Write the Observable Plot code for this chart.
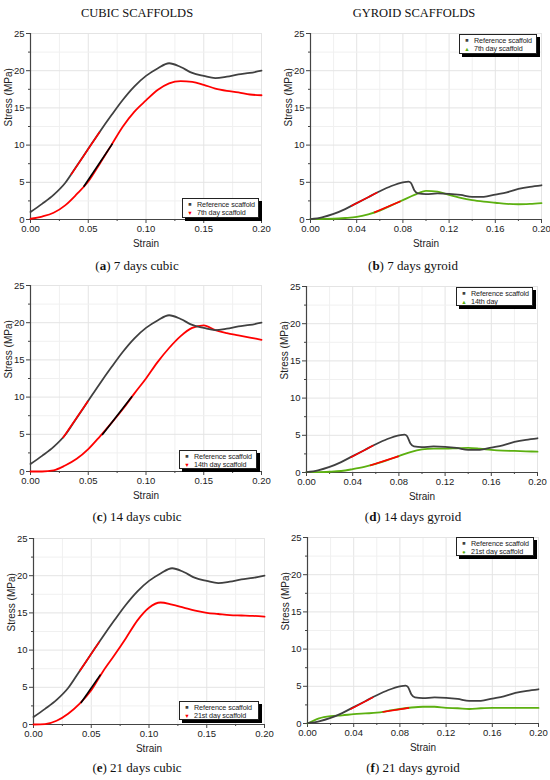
<!DOCTYPE html>
<html>
<head>
<meta charset="utf-8">
<script src="https://cdn.jsdelivr.net/npm/d3@7"></script>
<script src="https://cdn.jsdelivr.net/npm/@observablehq/plot@0.6"></script>
<style>
  body { margin: 0; background: #fff; }
  #root { position: relative; width: 550px; height: 780px; overflow: hidden; background: #fff; }
  .serif { position: absolute; font-family: "Liberation Serif", "Times New Roman", serif; color: #111; transform: translate(-50%, -50%); white-space: nowrap; }
  .legend { position: absolute; background: #fff; border: 1px solid #222; box-shadow: 3px 3px 0 #000; font-family: "Liberation Sans", Arial, sans-serif; font-size: 7.2px; color: #222; box-sizing: border-box; padding: 1px 0 0 0; white-space: nowrap; overflow: visible; }
  .legend .row { display: flex; align-items: center; height: 8.5px; white-space: nowrap; }
  .legend .sym { flex: 0 0 14px; text-align: center; font-size: 5.5px; line-height: 8.5px; }
  .legend .lbl { white-space: nowrap; letter-spacing: -0.1px; }
  .panel { position: absolute; }
</style>
</head>
<body>
<div id="root"></div>
<script>
// ---------- data ----------
const cubicStrain = [0, 0.01, 0.02, 0.03, 0.04, 0.05, 0.06, 0.07, 0.08, 0.09, 0.10, 0.11, 0.12, 0.13, 0.14, 0.15, 0.16, 0.17, 0.18, 0.19, 0.20];
const cubicRef    = [1.0, 2.1, 3.3, 4.9, 7.2, 9.5, 11.8, 14.0, 16.1, 17.9, 19.3, 20.3, 21.0, 20.5, 19.7, 19.3, 19.0, 19.2, 19.5, 19.7, 20.0];
const cubic7      = [0.1, 0.4, 0.9, 1.9, 3.4, 5.1, 7.5, 10.0, 12.5, 14.5, 16.0, 17.4, 18.3, 18.6, 18.5, 18.1, 17.6, 17.3, 17.1, 16.8, 16.7];
const cubic14     = [0.0, 0.0, 0.15, 0.8, 1.7, 3.0, 4.7, 6.5, 8.4, 10.5, 12.5, 14.7, 16.6, 18.2, 19.3, 19.65, 19.0, 18.6, 18.3, 18.0, 17.7];
const cubic21     = [0.0, 0.05, 0.5, 1.45, 2.8, 4.6, 7.1, 9.3, 11.6, 14.0, 15.7, 16.4, 16.1, 15.7, 15.3, 15.0, 14.85, 14.7, 14.65, 14.6, 14.5];

const gyroidRefStrain = [0, 0.01, 0.02, 0.03, 0.04, 0.05, 0.06, 0.07, 0.08, 0.085, 0.087, 0.09, 0.093, 0.10, 0.11, 0.12, 0.13, 0.14, 0.15, 0.16, 0.17, 0.18, 0.19, 0.20];
const gyroidRef       = [0.05, 0.3, 0.75, 1.4, 2.2, 3.0, 3.8, 4.5, 5.0, 5.1, 4.9, 3.9, 3.5, 3.4, 3.5, 3.45, 3.3, 3.05, 3.05, 3.35, 3.65, 4.1, 4.4, 4.6];
const gyroidStrain = [0, 0.01, 0.02, 0.03, 0.04, 0.05, 0.06, 0.07, 0.08, 0.09, 0.10, 0.11, 0.12, 0.13, 0.14, 0.15, 0.16, 0.17, 0.18, 0.19, 0.20];
const gyroid7      = [0.05, 0.07, 0.1, 0.2, 0.35, 0.7, 1.2, 1.9, 2.6, 3.3, 3.85, 3.75, 3.3, 2.9, 2.6, 2.4, 2.25, 2.1, 2.05, 2.1, 2.2];
const gyroid14     = [0.05, 0.05, 0.1, 0.2, 0.45, 0.75, 1.15, 1.65, 2.2, 2.75, 3.1, 3.2, 3.2, 3.25, 3.3, 3.2, 3.05, 2.95, 2.9, 2.85, 2.8];
const gyroid21     = [0.0, 0.7, 1.0, 1.1, 1.25, 1.35, 1.45, 1.7, 1.95, 2.15, 2.25, 2.25, 2.1, 2.05, 1.95, 2.05, 2.1, 2.1, 2.1, 2.1, 2.1];

// linear-fit overlay segments [x1, y1, x2, y2, colour]
const fitA = [[0.035, 6.0, 0.060, 11.8, "#ff0000"], [0.046, 4.4, 0.071, 10.2, "#000000"]];
const fitB = [[0.035, 1.8, 0.058, 3.65, "#ff0000"], [0.055, 0.95, 0.078, 2.45, "#ff0000"]];
const fitC = [[0.028, 4.5, 0.050, 9.5, "#ff0000"], [0.062, 4.9, 0.088, 10.1, "#000000"]];
const fitD = [[0.038, 2.0, 0.058, 3.65, "#ff0000"], [0.055, 0.95, 0.080, 2.2, "#ff0000"]];
const fitE = [[0.040, 7.2, 0.057, 11.1, "#ff0000"], [0.041, 2.9, 0.058, 6.7, "#000000"]];
const fitF = [[0.037, 1.9, 0.057, 3.55, "#ff0000"], [0.065, 1.55, 0.088, 2.1, "#ff0000"]];

const cubicTicks = [0, 0.05, 0.10, 0.15, 0.20];
const cubicMinor = [0.025, 0.075, 0.125, 0.175];
const gyroidTicks = [0, 0.04, 0.08, 0.12, 0.16, 0.20];
const gyroidMinor = [0.02, 0.06, 0.10, 0.14, 0.18];
const yTicks = [0, 5, 10, 15, 20, 25];
const yMinor = [2.5, 7.5, 12.5, 17.5, 22.5];

const refLabel = "Reference scaffold";
const titles = ["CUBIC SCAFFOLDS", "GYROID SCAFFOLDS"];

const REF_COLOR = "#404040", RED = "#ff0000", GREEN = "#5cb010";

// ---------- panels ----------
const panels = [
  {left: 0,   top: 23,  strain: cubicStrain, day: cubic7,  refStrain: cubicStrain, ref: cubicRef, dayColor: RED, sym: "▼",
   ticks: cubicTicks, minor: cubicMinor, fits: fitA, dayLabel: "7th day scaffold",
   legend: [182, 198, 77, 20], caption: ["a", " 7 days cubic"], cap: [137, 266]},
  {left: 280, top: 23,  strain: gyroidStrain, day: gyroid7, refStrain: gyroidRefStrain, ref: gyroidRef, dayColor: GREEN, sym: "▲",
   ticks: gyroidTicks, minor: gyroidMinor, fits: fitB, dayLabel: "7th day scaffold",
   legend: [459, 34, 78, 20], caption: ["b", " 7 days gyroid"], cap: [413, 266]},
  {left: 0,   top: 275, strain: cubicStrain, day: cubic14, refStrain: cubicStrain, ref: cubicRef, dayColor: RED, sym: "▼",
   ticks: cubicTicks, minor: cubicMinor, fits: fitC, dayLabel: "14th day scaffold",
   legend: [179, 450, 78, 19], caption: ["c", " 14 days cubic"], cap: [137, 517]},
  {left: 276, top: 276, strain: gyroidStrain, day: gyroid14, refStrain: gyroidRefStrain, ref: gyroidRef, dayColor: GREEN, sym: "▲",
   ticks: gyroidTicks, minor: gyroidMinor, fits: fitD, dayLabel: "14th day",
   legend: [456, 287, 77, 19], caption: ["d", " 14 days gyroid"], cap: [413, 517]},
  {left: 3,   top: 528, strain: cubicStrain, day: cubic21, refStrain: cubicStrain, ref: cubicRef, dayColor: RED, sym: "▼",
   ticks: cubicTicks, minor: cubicMinor, fits: fitE, dayLabel: "21st day scaffold",
   legend: [179, 701, 80, 19], caption: ["e", " 21 days cubic"], cap: [137, 768]},
  {left: 277, top: 527, strain: gyroidStrain, day: gyroid21, refStrain: gyroidRefStrain, ref: gyroidRef, dayColor: GREEN, sym: "●",
   ticks: gyroidTicks, minor: gyroidMinor, fits: fitF, dayLabel: "21st day scaffold",
   legend: [456, 537, 78, 19], caption: ["f", " 21 days gyroid"], cap: [413, 768]}
];

const root = document.getElementById("root");

function addText(html, x, y, size, extra = "") {
  const d = document.createElement("div");
  d.className = "serif";
  d.style.left = x + "px";
  d.style.top = y + "px";
  d.style.fontSize = size + "px";
  d.style.cssText += extra;
  d.innerHTML = html;
  root.appendChild(d);
}

addText(titles[0], 137, 13, 12.5);
addText(titles[1], 414, 13, 12.5);

for (const p of panels) {
  const refData = p.refStrain.map((s, i) => ({strain: s, stress: p.ref[i]}));
  const dayData = p.strain.map((s, i) => ({strain: s, stress: p.day[i]}));
  const fitData = p.fits.map(([x1, y1, x2, y2, c]) => ({x1, y1, x2, y2, c}));
  const fmt = d3.format(".2f");

  const chart = Plot.plot({
    width: 270, height: 240,
    marginLeft: 30, marginRight: 9, marginTop: 10, marginBottom: 44,
    style: {fontFamily: "'Liberation Sans', Arial, sans-serif", fontSize: "9.5px", color: "#222", background: "transparent", overflow: "visible"},
    x: {domain: [0, 0.2], axis: null},
    y: {domain: [0, 25], axis: null},
    marks: [
      Plot.gridX(p.minor, {stroke: "#f0f0f0", strokeOpacity: 1}),
      Plot.gridX(p.ticks.slice(1), {stroke: "#e4e4e4", strokeOpacity: 1}),
      Plot.gridY(yMinor, {stroke: "#f0f0f0", strokeOpacity: 1}),
      Plot.gridY(yTicks.slice(1), {stroke: "#e4e4e4", strokeOpacity: 1}),
      Plot.axisX(p.ticks, {tickSize: 4, tickPadding: 2, tickFormat: fmt, stroke: "#444", label: null}),
      Plot.axisX(p.minor, {tickSize: 2, tickFormat: () => "", stroke: "#444", label: null}),
      Plot.axisY(yTicks, {tickSize: 4, tickPadding: 2, stroke: "#444", label: null}),
      Plot.axisY(yMinor, {tickSize: 2, tickFormat: () => "", stroke: "#444", label: null}),
      Plot.ruleX([0], {stroke: "#444", strokeWidth: 1.2}),
      Plot.ruleY([0], {stroke: "#444", strokeWidth: 1.2}),
      Plot.line(dayData, {x: "strain", y: "stress", stroke: p.dayColor, strokeWidth: 1.8, curve: "monotone-x"}),
      Plot.line(refData, {x: "strain", y: "stress", stroke: REF_COLOR, strokeWidth: 1.8, curve: "monotone-x"}),
      Plot.link(fitData, {x1: "x1", y1: "y1", x2: "x2", y2: "y2", stroke: "c", strokeWidth: 1.6}),
      Plot.text(["Strain"], {frameAnchor: "bottom", dy: 24, fontSize: 10, fill: "#222", lineAnchor: "middle"}),
      Plot.text(["Stress (MPa)"], {frameAnchor: "left", dx: -22, rotate: -90, fontSize: 10, fill: "#222"})
    ]
  });
  const wrap = document.createElement("div");
  wrap.className = "panel";
  wrap.style.left = p.left + "px";
  wrap.style.top = p.top + "px";
  wrap.appendChild(chart);
  root.appendChild(wrap);

  // legend box
  const [lx, ly, lw, lh] = p.legend;
  const lg = document.createElement("div");
  lg.className = "legend";
  lg.style.left = lx + "px";
  lg.style.top = ly + "px";
  lg.style.width = lw + "px";
  lg.style.height = lh + "px";
  lg.innerHTML =
    `<div class="row"><span class="sym" style="color:${REF_COLOR}">■</span><span class="lbl">${refLabel}</span></div>` +
    `<div class="row"><span class="sym" style="color:${p.dayColor}">${p.sym}</span><span class="lbl">${p.dayLabel}</span></div>`;
  root.appendChild(lg);

  addText(`(<b>${p.caption[0]}</b>)${p.caption[1]}`, p.cap[0], p.cap[1], 13);
}
</script>
</body>
</html>
